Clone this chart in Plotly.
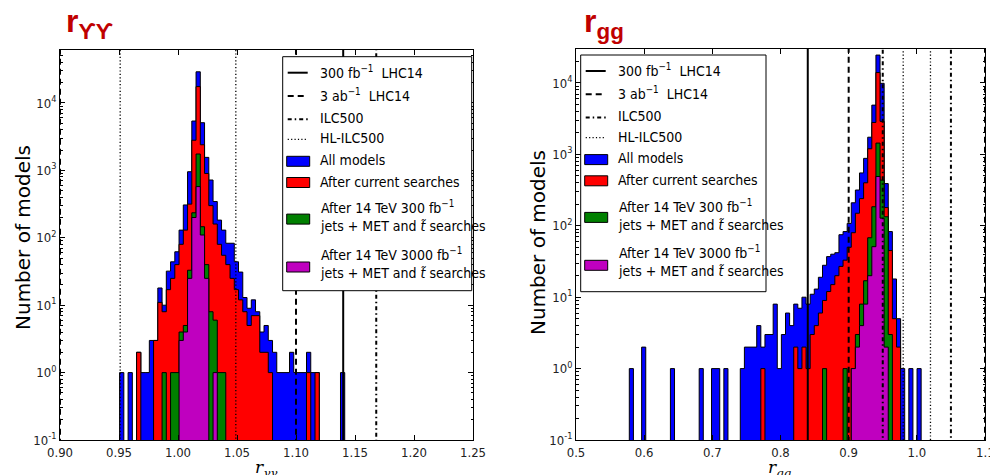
import plotly.graph_objects as go

W, H = 990, 475

# ---------------- data ----------------
# r_gamma-gamma histogram: first bin edge and bin width
L_start, L_width = 0.9505, 0.0036
L_all = [1,0,1,0,2,1,1,3,3,18,
         10,32,44,62,130,307,955,5400,29000,5100,
         1560,720,345,183,130,83,83,44,31,13,
         9,12,8,4,5,3,2,1,1,1,
         2,1,1,1,2,1,1,0,0,0,
         0,0,1]
L_cur = [0,0,0,0,2,0,0,0,3,11,
         8,17,25,40,80,130,316,2800,17500,2400,
         900,300,160,80,55,40,25,17,12,8,
         5,7,7,2,2,1,0,0,0,0,
         0,0,0,0,1,0,1,0,0,0,
         0,0,0]
L_300 = [0,0,0,0,0,0,0,0,0,0,
         1,0,1,1,4,5,33,235,1750,146,
         40,8,6,1,1,0,0,0,0,0,
         0,0,0,0,0,0,0,0,0,0,
         0,0,0,0,0,0,0,0,0,0,
         0,0,0]
L_3000 = [0,0,0,0,0,0,0,0,0,0,
          0,0,0,0,3,4,25,200,575,110,
          25,0,1,0,0,0,0,0,0,0,
          0,0,0,0,0,0,0,0,0,0,
          0,0,0,0,0,0,0,0,0,0,
          0,0,0]

# r_gg histogram
R_start, R_width = 0.5782, 0.00603
R_all = [1,0,0,2,0,0,0,0,0,0,
         1,0,0,0,0,0,0,1,0,0,
         1,1,0,1,0,0,0,1,2,2,
         2,4,2,3,3,8,1,3,6,4,
         8,7,10,8,11,13,19,28,37,40,
         42,75,83,108,210,317,550,880,1740,4900,
         24600,9900,390,83,18,5,1,0,1,0,
         1]
R_cur = [0,0,0,0,0,0,0,0,0,0,
         0,0,0,0,0,0,0,0,0,0,
         0,0,0,0,0,0,0,0,0,0,
         0,0,1,0,0,0,0,0,0,0,
         2,1,2,1,3,4,6,9,12,15,
         20,27,33,50,80,150,240,400,1200,2800,
         14000,2900,180,45,5,2,0,0,0,0,
         0]
R_300 = [0]*40 + [0,0,0,0,0,0,0,1,0,0,
                  0,0,1,0,1,3,8,17,68,185,
                  1440,436,134,3,0,0,0,0,0,0,
                  0]
R_3000 = [0]*50 + [0,0,0,0,1,2,4,8,20,51,
                   490,128,2,0,0,0,0,0,0,0,
                   0]

# projected precision lines (lower, upper)
L_lines = {"300": [0.86, 1.14], "3ab": [0.90, 1.10], "ILC": [0.832, 1.168], "HL": [0.951, 1.049]}
R_lines = {"300": [0.84, 1.16], "3ab": [0.90, 1.10], "ILC": [0.95, 1.05], "HL": [0.98, 1.02]}

L_xticks = [0.90, 0.95, 1.00, 1.05, 1.10, 1.15, 1.20, 1.25]
R_xticks = [0.5, 0.6, 0.7, 0.8, 0.9, 1.0, 1.1]
y_ticks = [0.1, 1, 10, 100, 1000, 10000]
y_ticktext = ["10<sup>-1</sup>", "10<sup>0</sup>", "10<sup>1</sup>", "10<sup>2</sup>", "10<sup>3</sup>", "10<sup>4</sup>"]

legend_lines = [("300", "300 fb<sup>\u22121</sup>\u00a0 LHC14"),
                ("3ab", "3 ab<sup>\u22121</sup>\u00a0 LHC14"),
                ("ILC", "ILC500"),
                ("HL", "HL-ILC500")]
legend_boxes = ["All models", "After current searches",
                "After 14 TeV 300 fb<sup>\u22121</sup><br>jets + MET and <i>t\u0303</i> searches",
                "After 14 TeV 3000 fb<sup>\u22121</sup><br>jets + MET and <i>t\u0303</i> searches"]

# ---------------- styles ----------------
COLORS = ["#0000FF", "#FF0000", "#008000", "#BF00BF"]
DASH = {"300": ("solid", 2), "3ab": ("6px,4px", 2), "ILC": ("4px,3px,1.5px,3px", 2), "HL": ("1.2px,2.2px", 1.3)}
NARROW = "Liberation Sans Narrow, DejaVu Sans Condensed, Roboto Condensed, Liberation Sans, Arial"
BASE = 1e-3


def step_poly(start, width, counts):
    xs, ys = [start], [BASE]
    for i, c in enumerate(counts):
        l = start + i * width
        h = c if c > 0 else BASE
        xs += [l, l + width]
        ys += [h, h]
    xs.append(start + len(counts) * width)
    ys.append(BASE)
    return xs, ys


fig = go.Figure()


def add_panel(start, width, series, lines, xa, ya):
    for s, col in zip(series, COLORS):
        xs, ys = step_poly(start, width, s)
        fig.add_trace(go.Scatter(x=xs, y=ys, mode="lines", fill="toself", fillcolor=col,
                                 line=dict(color="black", width=1), xaxis=xa, yaxis=ya,
                                 showlegend=False, hoverinfo="skip"))
    for key, vals in lines.items():
        dash, lw = DASH[key]
        xs, ys = [], []
        for v in vals:
            xs += [v, v, None]
            ys += [BASE, 1e7, None]
        fig.add_trace(go.Scatter(x=xs, y=ys, mode="lines", line=dict(color="black", width=lw, dash=dash),
                                 xaxis=xa, yaxis=ya, showlegend=False, hoverinfo="skip"))


add_panel(L_start, L_width, [L_all, L_cur, L_300, L_3000], L_lines, "x", "y")
add_panel(R_start, R_width, [R_all, R_cur, R_300, R_3000], R_lines, "x2", "y2")


def px(x):
    return x / W


def py(y):
    return 1 - y / H


minor_vals = [m * 10 ** e for e in range(-1, 5) for m in range(2, 10)]

axis_common = dict(showline=True, linecolor="black", linewidth=1, mirror="allticks", ticks="inside",
                   ticklen=5, tickcolor="black", showgrid=False, zeroline=False, automargin=False,
                   tickfont=dict(family=NARROW, size=13, color="#222"))

fig.update_layout(
    template="none",
    width=W, height=H, margin=dict(l=0, r=0, t=0, b=0, pad=0, autoexpand=False),
    paper_bgcolor="white", plot_bgcolor="white", showlegend=False,
    xaxis=dict(domain=[px(60), px(473)], range=[0.90, 1.25], tickvals=L_xticks,
               ticktext=["%.2f" % v for v in L_xticks], anchor="y", **axis_common),
    yaxis=dict(domain=[py(440), py(50)], type="log", range=[-1, 4.786], tickvals=y_ticks,
               ticktext=y_ticktext, anchor="x",
               minor=dict(ticks="inside", ticklen=2.5, tickcolor="black", tickmode="array", tickvals=minor_vals),
               **axis_common),
    xaxis2=dict(domain=[px(576), px(985)], range=[0.5, 1.1], tickvals=R_xticks,
                ticktext=["%.1f" % v for v in R_xticks], anchor="y2", **axis_common),
    yaxis2=dict(domain=[py(440), py(49)], type="log", range=[-1, 4.476], tickvals=y_ticks,
                ticktext=y_ticktext, anchor="x2",
                minor=dict(ticks="inside", ticklen=2.5, tickcolor="black", tickmode="array", tickvals=minor_vals),
                **axis_common),
)

shapes = []
annotations = []


def add_legend(x0, y0, w, h):
    shapes.append(dict(type="rect", xref="paper", yref="paper", x0=px(x0), x1=px(x0 + w), y0=py(y0 + h), y1=py(y0),
                       fillcolor="white", line=dict(color="black", width=1), layer="above"))
    line_offsets = [16, 39.3, 62.6, 82.6]
    text_offsets = [15, 38.3, 61, 81.6]
    for (key, label), lo, to in zip(legend_lines, line_offsets, text_offsets):
        dash, lw = DASH[key]
        shapes.append(dict(type="line", xref="paper", yref="paper", x0=px(x0 + 5), x1=px(x0 + 25),
                           y0=py(y0 + lo), y1=py(y0 + lo), line=dict(color="black", width=lw, dash=dash),
                           layer="above"))
        annotations.append(dict(text=label, xref="paper", yref="paper", x=px(x0 + 35), y=py(y0 + to),
                                xanchor="left", yanchor="middle", showarrow=False,
                                font=dict(family=NARROW, size=14, color="black")))
    box_offsets = [104.6, 125.8, 162.4, 210.3]
    text_offsets = [103.3, 125, 159.6, 206.2]
    for label, col, bo, to in zip(legend_boxes, COLORS, box_offsets, text_offsets):
        shapes.append(dict(type="rect", xref="paper", yref="paper", x0=px(x0 + 4), x1=px(x0 + 27),
                           y0=py(y0 + bo + 5), y1=py(y0 + bo - 5), fillcolor=col,
                           line=dict(color="black", width=1), layer="above"))
        annotations.append(dict(text=label, xref="paper", yref="paper", x=px(x0 + 35), y=py(y0 + to),
                                xanchor="left", yanchor="middle", align="left", showarrow=False,
                                font=dict(family=NARROW, size=14, color="black")))


add_legend(282.7, 56.7, 189, 234)
add_legend(580.7, 55, 185.3, 236.7)

# last x tick label of the right panel, cut by the page edge as in the original
annotations.append(dict(text="%.1f" % R_xticks[-1], xref="x2", yref="paper", x=R_xticks[-1], y=py(452),
                        xanchor="center", yanchor="middle", showarrow=False,
                        font=dict(family=NARROW, size=13, color="#222")))

# panel titles
annotations.append(dict(text="<b>r<sub>\u03d2\u03d2</sub></b>", xref="paper", yref="paper", x=px(64), y=py(24),
                        xanchor="left", yanchor="middle", showarrow=False,
                        font=dict(family="Liberation Sans, Arial", size=32, color="#C00000")))
annotations.append(dict(text="<b>r<sub>gg</sub></b>", xref="paper", yref="paper", x=px(582), y=py(24),
                        xanchor="left", yanchor="middle", showarrow=False,
                        font=dict(family="Liberation Sans, Arial", size=32, color="#C00000")))
# y titles
for xc, yc in [(23, 238), (538, 243)]:
    annotations.append(dict(text="Number of models", xref="paper", yref="paper", x=px(xc), y=py(yc),
                            xanchor="center", yanchor="middle", textangle=-90, showarrow=False,
                            font=dict(family="DejaVu Sans", size=20, color="black")))
# x titles
annotations.append(dict(text="<i>r</i><sub><i>\u03b3\u03b3</i></sub>", xref="paper", yref="paper",
                        x=px(266), y=py(468), xanchor="center", yanchor="middle", showarrow=False,
                        font=dict(family="DejaVu Serif", size=17, color="black")))
annotations.append(dict(text="<i>r</i><sub><i>gg</i></sub>", xref="paper", yref="paper",
                        x=px(780), y=py(468), xanchor="center", yanchor="middle", showarrow=False,
                        font=dict(family="DejaVu Serif", size=17, color="black")))

fig.update_layout(shapes=shapes, annotations=annotations)
fig.write_html("out.html")
